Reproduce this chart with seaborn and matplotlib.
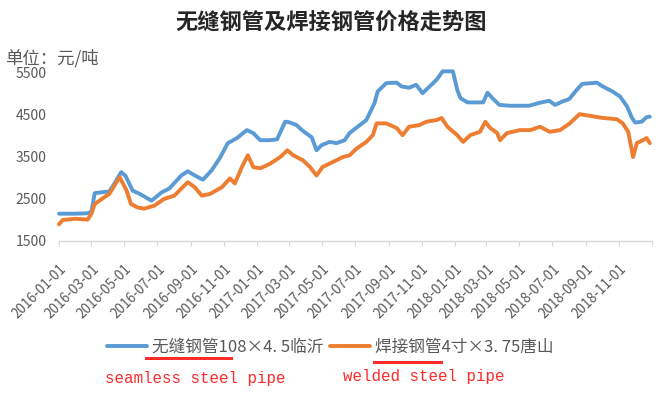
import matplotlib
matplotlib.use('Agg')
import matplotlib.pyplot as plt
import matplotlib.transforms as mtransforms
from matplotlib.patches import Rectangle
from matplotlib.lines import Line2D
import seaborn as sns
import pandas as pd

# ---------------- data ----------------
seamless_dates = [
    '2016-01-01', '2016-01-30', '2016-02-23', '2016-03-01', '2016-03-07', '2016-04-03',
    '2016-04-14', '2016-04-25', '2016-05-03', '2016-05-16', '2016-05-28', '2016-06-20',
    '2016-07-09', '2016-07-23', '2016-08-14', '2016-08-26', '2016-09-08', '2016-09-23',
    '2016-10-09', '2016-10-24', '2016-11-08', '2016-11-25', '2016-12-13', '2016-12-25',
    '2017-01-07', '2017-01-25', '2017-02-07', '2017-02-22', '2017-03-01', '2017-03-15',
    '2017-03-25', '2017-04-12', '2017-04-21', '2017-04-30', '2017-05-15', '2017-05-28',
    '2017-06-12', '2017-06-21', '2017-07-10', '2017-07-22', '2017-08-06', '2017-08-12',
    '2017-08-28', '2017-09-16', '2017-09-25', '2017-10-09', '2017-10-22', '2017-11-03',
    '2017-11-16', '2017-11-29', '2017-12-10', '2017-12-29', '2018-01-06', '2018-01-12',
    '2018-01-25', '2018-02-23', '2018-03-03', '2018-03-12', '2018-03-25', '2018-04-13',
    '2018-05-19', '2018-06-07', '2018-06-25', '2018-07-06', '2018-07-19', '2018-08-01',
    '2018-08-15', '2018-08-25', '2018-09-21', '2018-10-02', '2018-10-20', '2018-11-03',
    '2018-11-16', '2018-11-25', '2018-12-01', '2018-12-13', '2018-12-22', '2018-12-28',
]
seamless_values = [
    2150, 2150, 2160, 2200, 2640, 2680,
    2900, 3140, 3050, 2700, 2630, 2460,
    2660, 2750, 3060, 3160, 3060, 2960,
    3180, 3470, 3830, 3950, 4140, 4070,
    3900, 3900, 3920, 4340, 4330, 4260,
    4140, 3970, 3660, 3780, 3860, 3830,
    3900, 4070, 4260, 4380, 4780, 5060,
    5260, 5270, 5180, 5150, 5220, 5020,
    5180, 5340, 5540, 5540, 5100, 4900,
    4800, 4800, 5030, 4900, 4740, 4720,
    4720, 4790, 4840, 4740, 4820, 4880,
    5100, 5240, 5270, 5180, 5060, 4940,
    4700, 4430, 4320, 4340, 4450, 4460,
]

welded_dates = [
    '2016-01-01', '2016-01-08', '2016-01-30', '2016-02-23', '2016-03-01', '2016-03-07',
    '2016-03-20', '2016-04-03', '2016-04-22', '2016-05-05', '2016-05-13', '2016-05-25',
    '2016-06-06', '2016-06-25', '2016-07-13', '2016-08-01', '2016-08-26', '2016-09-08',
    '2016-09-21', '2016-10-06', '2016-10-28', '2016-11-12', '2016-11-21', '2016-12-04',
    '2016-12-15', '2016-12-25', '2017-01-07', '2017-01-25', '2017-02-13', '2017-02-26',
    '2017-03-09', '2017-03-27', '2017-04-09', '2017-04-21', '2017-05-02', '2017-05-21',
    '2017-06-09', '2017-06-21', '2017-07-04', '2017-07-22', '2017-08-03', '2017-08-10',
    '2017-08-28', '2017-09-16', '2017-09-27', '2017-10-09', '2017-10-28', '2017-11-10',
    '2017-11-29', '2017-12-08', '2017-12-19', '2018-01-06', '2018-01-17', '2018-01-30',
    '2018-02-17', '2018-02-27', '2018-03-08', '2018-03-21', '2018-03-26', '2018-04-08',
    '2018-05-02', '2018-05-21', '2018-06-08', '2018-06-26', '2018-07-15', '2018-08-02',
    '2018-08-20', '2018-09-08', '2018-10-02', '2018-10-28', '2018-11-08', '2018-11-18',
    '2018-11-27', '2018-12-04', '2018-12-15', '2018-12-22', '2018-12-28',
]
welded_values = [
    1900, 2000, 2030, 2010, 2150, 2380,
    2500, 2620, 3020, 2700, 2380, 2300,
    2270, 2340, 2500, 2580, 2900, 2780,
    2580, 2620, 2780, 2990, 2870, 3260,
    3540, 3260, 3230, 3340, 3500, 3660,
    3540, 3420, 3260, 3060, 3260, 3380,
    3500, 3540, 3700, 3860, 4020, 4300,
    4300, 4190, 4020, 4220, 4260, 4340,
    4380, 4430, 4220, 4020, 3860, 4020,
    4100, 4340, 4190, 4070, 3900, 4070,
    4140, 4140, 4220, 4100, 4140, 4300,
    4520, 4480, 4430, 4400, 4300, 4100,
    3500, 3830, 3900, 3950, 3830,
]

series_names = ['无缝钢管108×4. 5临沂', '焊接钢管4寸×3. 75唐山']
series_colors = ['#5B9BD5', '#ED7D31']
y_ticks = [1500, 2500, 3500, 4500, 5500]
x_tick_dates = pd.date_range('2016-01-01', '2019-01-01', freq='2MS')
x_tick_labels = [d.strftime('%Y-%m-%d') for d in x_tick_dates[:-1]] + ['']
title_text = '无缝钢管及焊接钢管价格走势图'
unit_text = '单位：元/吨'
note_seamless = 'seamless steel pipe'
note_welded = 'welded steel pipe'

# ---------------- build table ----------------
df = pd.concat([
    pd.DataFrame({'date': pd.to_datetime(seamless_dates), 'price': seamless_values,
                  'series': series_names[0]}),
    pd.DataFrame({'date': pd.to_datetime(welded_dates), 'price': welded_values,
                  'series': series_names[1]}),
], ignore_index=True)

sns.set_theme(style='white')
plt.rcParams['font.family'] = ['Noto Sans CJK SC', 'DejaVu Sans']

W, H = 662, 396
fig = plt.figure(figsize=(W / 100, H / 100), dpi=100)
ax = fig.add_axes([59 / W, 1 - 241 / H, (652 - 59) / W, (241 - 73) / H])

sns.lineplot(data=df, x='date', y='price', hue='series',
             palette=dict(zip(series_names, series_colors)),
             linewidth=2.8, ax=ax, legend=False)
for ln in ax.lines:
    ln.set_clip_on(False)
    ln.set_solid_joinstyle('round')

ax.set_xlim(pd.Timestamp('2016-01-01'), pd.Timestamp('2019-01-01'))
ax.set_ylim(1500, 5500)
ax.set_yticks(y_ticks)
ax.set_yticklabels([str(v) for v in y_ticks])
ax.set_xticks(x_tick_dates)
ax.set_xticklabels(x_tick_labels, rotation=45, ha='right', va='center',
                   rotation_mode='anchor')
ax.set_xlabel('')
ax.set_ylabel('')
ax.grid(False)

for s in ['left', 'right', 'top']:
    ax.spines[s].set_visible(False)
ax.spines['bottom'].set_color('#D9D9D9')
ax.spines['bottom'].set_linewidth(1.0)

ax.tick_params(axis='y', length=0, pad=9, labelsize=10, labelcolor='#595959')
ax.tick_params(axis='x', direction='out', length=3.8, width=0.8, color='#D9D9D9',
               pad=15, labelsize=9.8, labelcolor='#595959', bottom=True)
offset = mtransforms.ScaledTranslation(5 / 100, 0, fig.dpi_scale_trans)
for lbl in ax.get_xticklabels():
    lbl.set_transform(lbl.get_transform() + offset)

# title and unit
fig.text(0.5, 1 - 23 / H, title_text, ha='center', va='center',
         fontsize=16, fontweight='bold', color='#262626')
fig.text(5 / W, 1 - 58 / H, unit_text, ha='left', va='center',
         fontsize=12.5, color='#595959')

# legend
handles = [Line2D([0], [0], color=c, lw=2.8) for c in series_colors]
leg = fig.legend(handles, series_names, loc='center',
                 bbox_to_anchor=(330 / W, 1 - 347 / H), ncol=2, frameon=False,
                 fontsize=12, handlelength=2.4, handletextpad=0.3,
                 columnspacing=0.4, borderaxespad=0)
for t in leg.get_texts():
    t.set_color('#595959')

# red underlines and notes
fig.add_artist(Rectangle((145 / W, 1 - 359.5 / H), (233 - 145) / W, 3 / H,
                         transform=fig.transFigure, color='#FF2A2A', lw=0))
fig.add_artist(Rectangle((373 / W, 1 - 363.5 / H), (443 - 373) / W, 3 / H,
                         transform=fig.transFigure, color='#FF2A2A', lw=0))
fig.text(105 / W, 1 - 378 / H, note_seamless, ha='left', va='center',
         family='Liberation Mono', fontsize=11.4, color='#FF2A2A')
fig.text(343 / W, 1 - 376 / H, note_welded, ha='left', va='center',
         family='Liberation Mono', fontsize=11.4, color='#FF2A2A')

fig.savefig('out.png', dpi=100)
